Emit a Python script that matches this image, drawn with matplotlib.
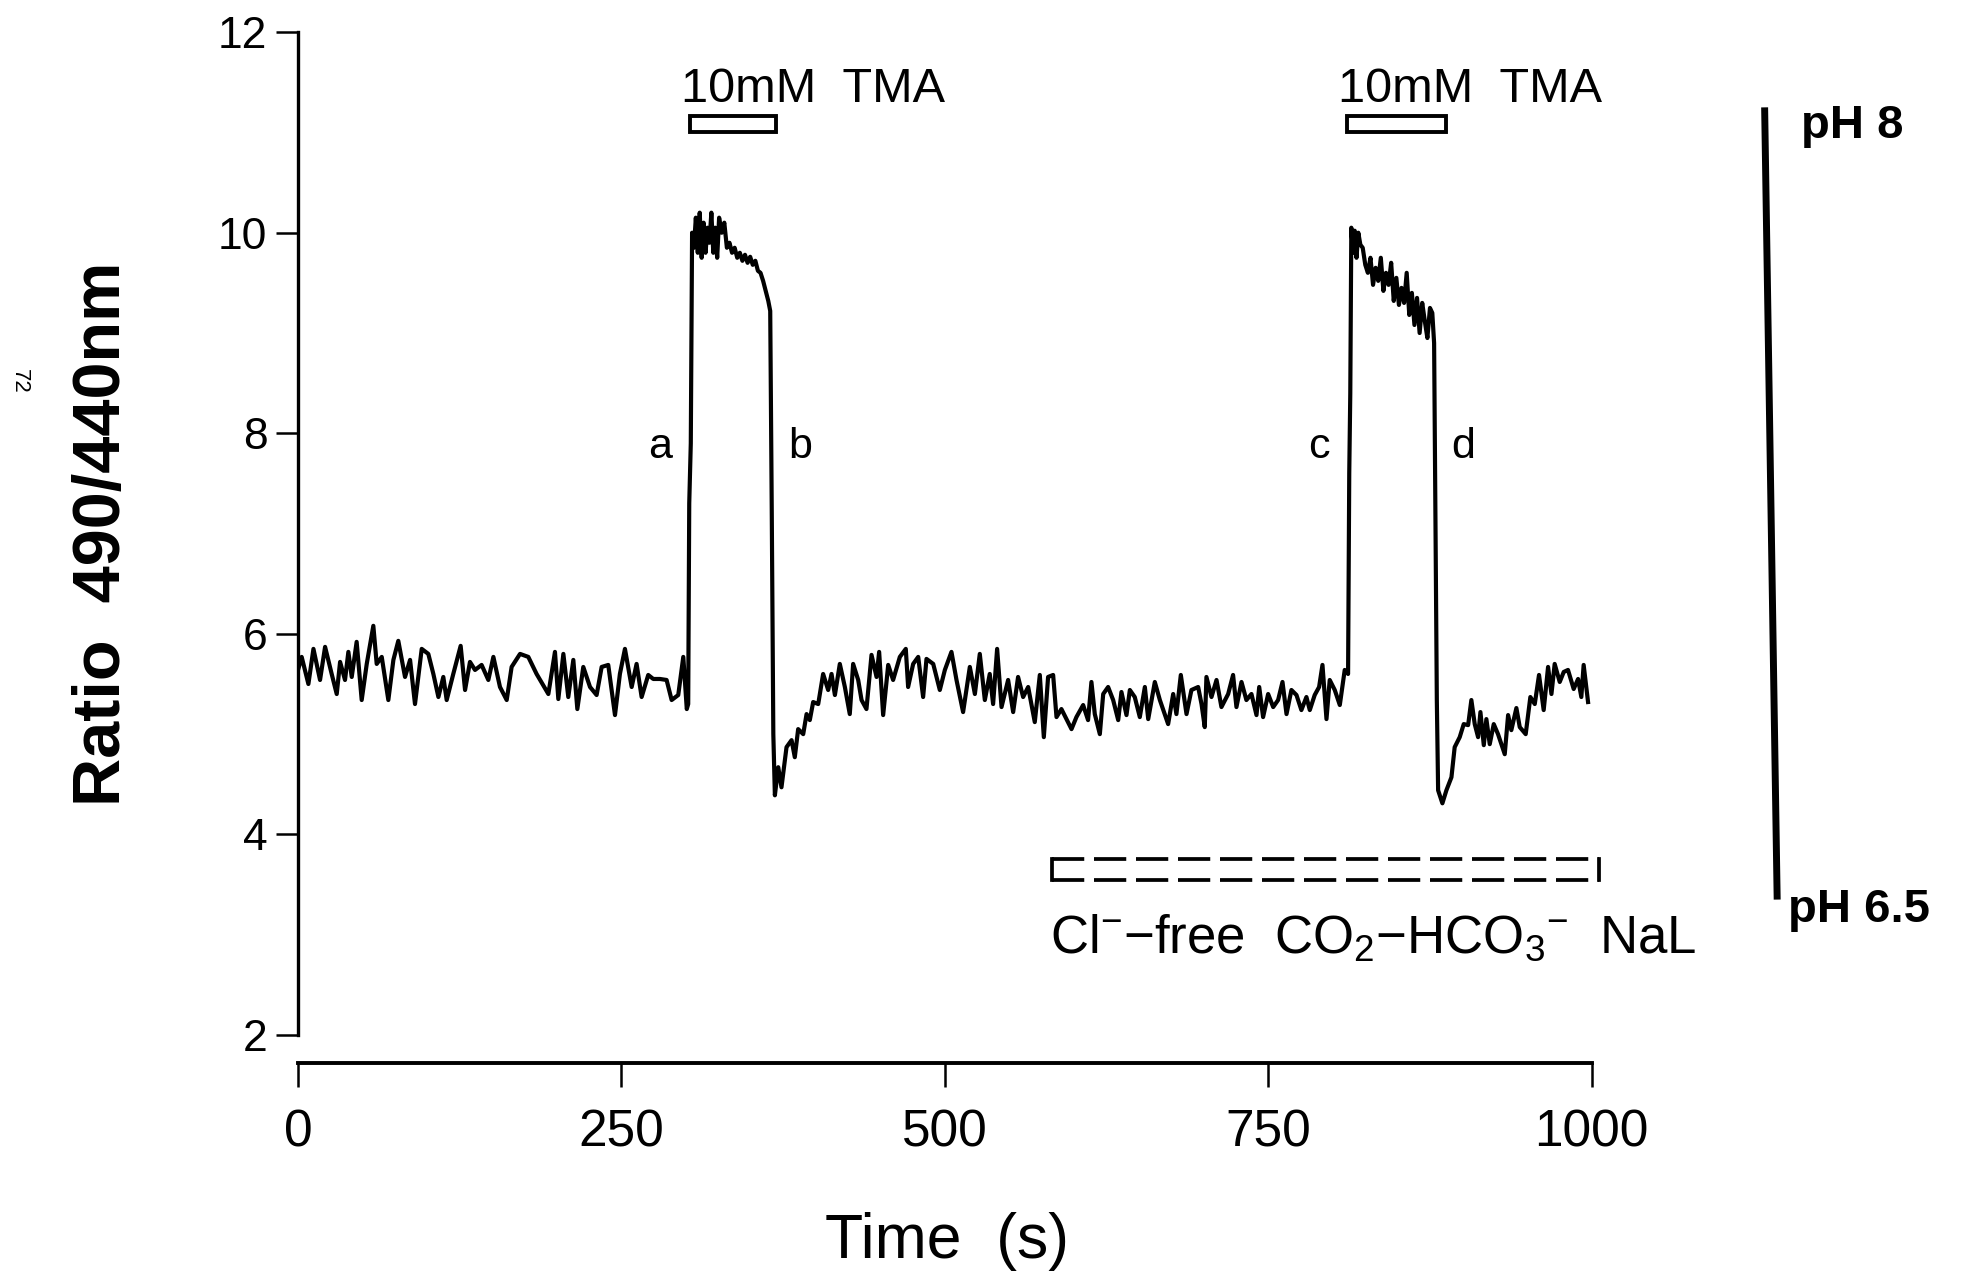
import numpy as np
import matplotlib
matplotlib.use("Agg")
import matplotlib.pyplot as plt
from matplotlib.patches import Rectangle

plt.rcParams['font.family'] = ['Liberation Sans', 'DejaVu Sans']
plt.rcParams['mathtext.fontset'] = 'custom'
plt.rcParams['mathtext.rm'] = 'Liberation Sans'
plt.rcParams['mathtext.it'] = 'Liberation Sans'
plt.rcParams['mathtext.bf'] = 'Liberation Sans:bold'

# --- trace: (time s, ratio 490/440) ---
rest_1 = [(0, 5.64), (2.8, 5.77), (8.0, 5.50), (11.9, 5.85), (17.0, 5.54), (20.9, 5.87),
          (26.0, 5.60), (29.9, 5.40), (32.5, 5.72), (36.3, 5.54), (38.9, 5.82), (41.5, 5.57),
          (45.3, 5.92), (49.2, 5.34), (53.1, 5.70), (58.2, 6.08), (60.8, 5.70), (64.7, 5.77),
          (69.8, 5.34), (73.7, 5.74), (77.5, 5.93), (82.7, 5.57), (86.6, 5.74), (90.4, 5.30),
          (95.6, 5.85), (100.7, 5.80), (104.6, 5.60), (108.5, 5.37), (112.3, 5.57), (114.9, 5.34),
          (120.0, 5.60), (125.7, 5.88), (129.1, 5.44), (132.9, 5.72), (136.8, 5.64), (141.9, 5.69),
          (147.1, 5.54), (151.0, 5.77), (156.1, 5.47), (161.3, 5.34), (165.1, 5.67), (171.6, 5.80),
          (178.0, 5.77), (184.4, 5.60), (193.5, 5.40), (198.6, 5.82), (201.2, 5.35), (205.1, 5.80),
          (208.9, 5.37), (212.8, 5.74), (215.9, 5.25), (220.5, 5.67), (225.7, 5.47), (230.8, 5.39),
          (234.7, 5.67), (239.8, 5.69), (245.0, 5.19), (248.8, 5.60), (252.7, 5.85), (257.9, 5.47),
          (261.7, 5.70), (265.6, 5.37), (270.7, 5.59), (274.6, 5.55), (279.8, 5.55), (284.9, 5.54),
          (288.8, 5.34), (293.9, 5.39), (297.8, 5.77), (300.5, 5.25)]

tma_1 = [(301.6, 5.30), (302.4, 7.3), (303.6, 7.9), (304.6, 10.0), (306.0, 9.85), (307.5, 10.15),
         (309.0, 9.80), (310.5, 10.20), (312.0, 9.75), (313.5, 10.10), (315.0, 9.80), (316.5, 10.05),
         (318.0, 9.90), (319.5, 10.20), (321.0, 9.80), (322.5, 10.05), (324.0, 9.75), (325.5, 10.15),
         (327.5, 10.00), (329.5, 10.10), (331.5, 9.85), (333.5, 9.90), (335.5, 9.80), (337.5, 9.85),
         (339.5, 9.75), (341.5, 9.80), (343.5, 9.72), (345.5, 9.78), (347.5, 9.70), (349.5, 9.76),
         (351.5, 9.68), (353.5, 9.72), (355.5, 9.62), (357.5, 9.60), (359.5, 9.52), (361.5, 9.42),
         (363.5, 9.32), (365.0, 9.22), (366.2, 7.2), (367.4, 5.0)]

recovery_1 = [(368.6, 4.39), (371.2, 4.67), (373.7, 4.47), (377.6, 4.87), (381.5, 4.94), (384.0, 4.77),
              (386.6, 5.05), (390.5, 5.00), (393.1, 5.20), (395.6, 5.14), (398.2, 5.32), (402.1, 5.30),
              (405.9, 5.60), (409.8, 5.44), (412.4, 5.60), (415.0, 5.39), (418.8, 5.70), (422.7, 5.47),
              (426.5, 5.20), (429.1, 5.70), (433.0, 5.54), (435.6, 5.34), (439.4, 5.25), (443.3, 5.79),
              (447.2, 5.57), (449.2, 5.82), (452.3, 5.19), (456.2, 5.69), (460.0, 5.54), (465.2, 5.77),
              (469.8, 5.85), (471.6, 5.47), (475.5, 5.70), (479.4, 5.77), (483.2, 5.37), (485.8, 5.75),
              (491.0, 5.70), (496.1, 5.44), (500.0, 5.64), (505.1, 5.82), (509.0, 5.54), (514.1, 5.22),
              (519.3, 5.67), (523.2, 5.40), (527.0, 5.80), (530.9, 5.34), (534.7, 5.60), (537.3, 5.30),
              (540.4, 5.85), (543.8, 5.27), (548.9, 5.54), (552.8, 5.22), (556.6, 5.57), (560.5, 5.37),
              (564.4, 5.47), (569.5, 5.12), (573.4, 5.59), (576.5, 4.97), (579.8, 5.57), (583.7, 5.59),
              (586.3, 5.17), (590.1, 5.25), (597.9, 5.05), (601.7, 5.17), (606.9, 5.29), (610.7, 5.14),
              (613.3, 5.52), (615.9, 5.20)]

rest_2 = [(619.8, 5.00), (622.4, 5.40), (626.2, 5.47), (630.1, 5.34), (634.0, 5.14), (636.5, 5.42),
          (640.4, 5.19), (643.0, 5.44), (646.8, 5.37), (650.7, 5.17), (654.6, 5.47), (657.2, 5.15),
          (662.3, 5.52), (666.2, 5.34), (672.6, 5.10), (676.5, 5.40), (679.0, 5.20), (682.4, 5.59),
          (686.8, 5.20), (690.6, 5.44), (695.8, 5.47), (698.4, 5.30), (700.9, 5.07), (702.2, 5.57),
          (706.1, 5.37), (710.0, 5.54), (713.8, 5.27), (719.0, 5.40), (722.8, 5.59), (725.4, 5.27),
          (729.3, 5.52), (733.1, 5.34), (737.0, 5.40), (740.9, 5.19), (743.0, 5.47), (746.0, 5.17),
          (749.9, 5.40), (753.8, 5.27), (757.6, 5.34), (761.0, 5.52), (764.1, 5.20), (767.9, 5.44),
          (771.8, 5.39), (775.6, 5.24), (779.5, 5.37), (782.1, 5.24), (785.9, 5.39), (789.3, 5.47),
          (791.9, 5.69), (795.0, 5.15), (797.5, 5.54), (801.4, 5.44), (805.3, 5.29), (809.1, 5.64),
          (811.7, 5.60)]

tma_2 = [(812.6, 7.6), (813.4, 8.4), (814.2, 10.05), (815.5, 9.80), (816.8, 10.02), (818.2, 9.75),
         (819.6, 10.00), (821.2, 9.88), (823.0, 9.85), (825.0, 9.68), (827.0, 9.60), (829.0, 9.75),
         (831.0, 9.48), (833.0, 9.65), (835.0, 9.52), (837.0, 9.75), (839.0, 9.42), (841.0, 9.60),
         (843.0, 9.48), (845.0, 9.70), (847.0, 9.32), (849.0, 9.55), (851.0, 9.28), (853.0, 9.45),
         (855.0, 9.30), (857.0, 9.60), (859.0, 9.18), (861.0, 9.40), (863.0, 9.08), (865.0, 9.35),
         (867.0, 9.00), (869.0, 9.30), (871.0, 9.12), (873.0, 8.95), (875.0, 9.25), (876.8, 9.20),
         (878.2, 8.9), (879.4, 6.8)]

recovery_2 = [(880.3, 5.34), (881.3, 4.44), (884.6, 4.31), (887.7, 4.44), (891.6, 4.57), (894.1, 4.87),
              (898.0, 4.97), (901.1, 5.10), (904.5, 5.09), (907.0, 5.34), (909.6, 5.10), (912.2, 4.97),
              (914.0, 5.22), (916.6, 4.89), (918.6, 5.15), (921.2, 4.90), (924.3, 5.10), (927.6, 5.00),
              (932.8, 4.80), (935.4, 5.19), (937.9, 5.04), (941.8, 5.26), (944.4, 5.07), (949.0, 5.00),
              (952.6, 5.37), (956.0, 5.30), (959.3, 5.59), (962.9, 5.24), (966.3, 5.67), (968.9, 5.40),
              (971.4, 5.70), (975.3, 5.52), (978.4, 5.62), (981.7, 5.64), (986.1, 5.45), (989.5, 5.55),
              (992.0, 5.37), (993.8, 5.69), (997.2, 5.32)]

# applications (time spans) and labels
tma_periods = [(303.3, 369.2), (811.0, 887.6)]
tma_text = "10mM  TMA"
cl_free_period = (583, 1006)
cl_free_text = r"Cl$^{-}$$-$free  CO$_2$$-$HCO$_3$$^{-}$  NaL"
event_labels = ["a", "b", "c", "d"]
event_times = [280, 388, 789, 901]
ph_scale = [(1133.7, 11.25, "pH 8"), (1143.4, 3.35, "pH 6.5")]

x_ticks = [0, 250, 500, 750, 1000]
y_ticks = [2, 4, 6, 8, 10, 12]

fig = plt.figure(figsize=(19.66, 12.71), dpi=100)
ax = fig.add_axes([0.1516, 0.1857, 0.658, 0.789])

trace = np.array(rest_1 + tma_1 + recovery_1 + rest_2 + tma_2 + recovery_2)
ax.plot(trace[:, 0], trace[:, 1], color="black", lw=3.0, solid_joinstyle="round")

ax.set_xlim(0, 1000)
ax.set_ylim(2, 12)
ax.set_xticks(x_ticks)
ax.set_yticks(y_ticks)
for s in ["top", "right"]:
    ax.spines[s].set_visible(False)
ax.spines["left"].set_linewidth(2.4)
ax.spines["bottom"].set_linewidth(2.8)
ax.spines["bottom"].set_position(("outward", 20))
ax.tick_params(axis="y", direction="out", length=16, width=1.8, pad=6, labelsize=32)
ax.tick_params(axis="x", direction="out", length=17, width=1.8, pad=16, labelsize=37)

# TMA application bars
for (t0, t1) in tma_periods:
    ax.add_patch(Rectangle((t0, 11.0), t1 - t0, 0.16, fill=False, lw=2.8,
                           edgecolor="black", clip_on=False))
    ax.text(t0 - 7, 11.3, tma_text, fontsize=35, va="baseline", ha="left")

# Cl- free solution bar (dashed box)
c0, c1 = cl_free_period
for yy in (3.55, 3.75):
    ax.plot([c0, c1], [yy, yy], color="black", lw=2.7, dashes=(8.6, 2.6), clip_on=False)
ax.plot([c0, c0], [3.55, 3.75], color="black", lw=2.7, clip_on=False)
ax.plot([c1, c1], [3.55, 3.75], color="black", lw=2.7, clip_on=False)
ax.text(c0 - 2, 2.82, cl_free_text, fontsize=38, va="baseline", ha="left")

# event letters
for lab, t in zip(event_labels, event_times):
    ax.text(t, 7.86, lab, fontsize=31, ha="center", va="center")

# pH calibration bar
(px0, py0, lab0), (px1, py1, lab1) = ph_scale
ax.plot([px0, px1], [py0, py1], color="black", lw=5.0, solid_capstyle="butt", clip_on=False)
ax.text(px0 + 28, py0 - 0.31, lab0, fontsize=34, fontweight="bold", va="baseline", ha="left")
ax.text(px1 + 8, py1 - 0.22, lab1, fontsize=34, fontweight="bold", va="baseline", ha="left")

fig.text(0.0524, 0.580, "Ratio  490/440nm", rotation=90, fontsize=48, fontweight="bold",
         ha="center", va="center")
fig.text(0.4817, 0.0236, "Time  (s)", fontsize=45, ha="center", va="center")
fig.text(0.0097, 0.70, "72", rotation=-90, fontsize=16, ha="center", va="center")

fig.savefig("out.png", dpi=100)
